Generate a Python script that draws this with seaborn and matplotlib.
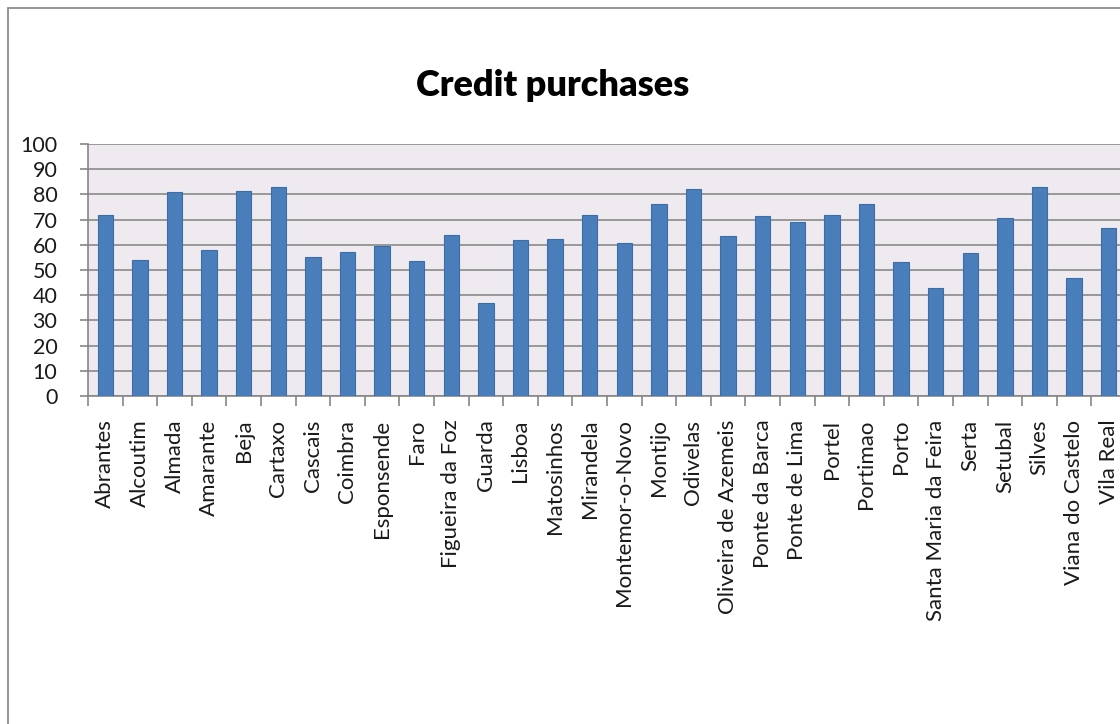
import numpy as np
import pandas as pd
import matplotlib
matplotlib.use("Agg")
import matplotlib.pyplot as plt
from matplotlib.patches import Rectangle
from matplotlib.ticker import FixedLocator, NullFormatter
import seaborn as sns

cities = [
    "Abrantes", "Alcoutim", "Almada", "Amarante", "Beja", "Cartaxo", "Cascais",
    "Coimbra", "Esponsende", "Faro", "Figueira da Foz", "Guarda", "Lisboa",
    "Matosinhos", "Mirandela", "Montemor-o-Novo", "Montijo", "Odivelas",
    "Oliveira de Azemeis", "Ponte da Barca", "Ponte de Lima", "Portel",
    "Portimao", "Porto", "Santa Maria da Feira", "Serta", "Setubal", "Silves",
    "Viana do Castelo", "Vila Real",
]
credit = [
    72, 54, 81, 58, 81.5, 83, 55, 57, 59.5, 53.5, 64, 37, 62, 62.3, 72, 60.7,
    76, 82, 63.3, 71.4, 69, 72, 76.3, 53, 42.8, 56.6, 70.5, 83, 46.8, 66.6,
]
y_ticks = list(range(0, 101, 10))

df = pd.DataFrame({"city": cities, "credit": credit})

sns.set_theme(style="white")
plt.rcParams["font.family"] = ["Lato", "DejaVu Sans"]

W, H = 1120, 724
fig = plt.figure(figsize=(W / 100, H / 100), dpi=100)
fig.patch.set_facecolor("white")

# chart frame (runs off the right and bottom edge)
fig.patches.append(Rectangle((8 / W, -0.05), 1.1, 1 - 8 / H + 0.05,
                             transform=fig.transFigure, fill=False,
                             edgecolor="#8c8c8c", linewidth=1.3, zorder=0))

left, right = 88 / W, 1126 / W
bottom, top = 1 - 396 / H, 1 - 144 / H
ax = fig.add_axes([left, bottom, right - left, top - bottom])
ax.set_facecolor("#eeeaf0")

sns.barplot(data=df, x="city", y="credit", color="#4a7ebb", saturation=1,
            width=0.44, edgecolor="#3d6da6", linewidth=0.8, ax=ax, zorder=3)

ax.set_xlim(-0.5, len(cities) - 0.5)
ax.set_ylim(0, 100)
ax.set_yticks(y_ticks)
ax.set_yticklabels([str(t) for t in y_ticks])
ax.yaxis.grid(True, color="#8a8a8a", linewidth=1.2, zorder=1)
ax.set_axisbelow(True)
ax.set_xlabel("")
ax.set_ylabel("")

for s in ["top", "right"]:
    ax.spines[s].set_visible(False)
for s in ["left", "bottom"]:
    ax.spines[s].set_color("#868686")
    ax.spines[s].set_linewidth(1.2)

ax.tick_params(axis="y", which="major", direction="out", length=6, width=1.2,
               color="#868686", pad=16, labelsize=15.5, labelcolor="#1a1a1a",
               left=True)
ax.set_xticks(range(len(cities)))
ax.set_xticklabels(cities, rotation=90)
ax.tick_params(axis="x", which="major", length=0, pad=17, labelsize=16,
               labelcolor="#1a1a1a")
ax.xaxis.set_minor_locator(FixedLocator(np.arange(-0.5, len(cities), 1.0)))
ax.xaxis.set_minor_formatter(NullFormatter())
ax.tick_params(axis="x", which="minor", direction="out", length=7, width=1.2,
               color="#868686", bottom=True)

fig.text(553 / W, 1 - 86 / H, "Credit purchases", ha="center", va="center",
         fontsize=26, fontweight="heavy", color="black")

fig.savefig("out.png", dpi=100)
